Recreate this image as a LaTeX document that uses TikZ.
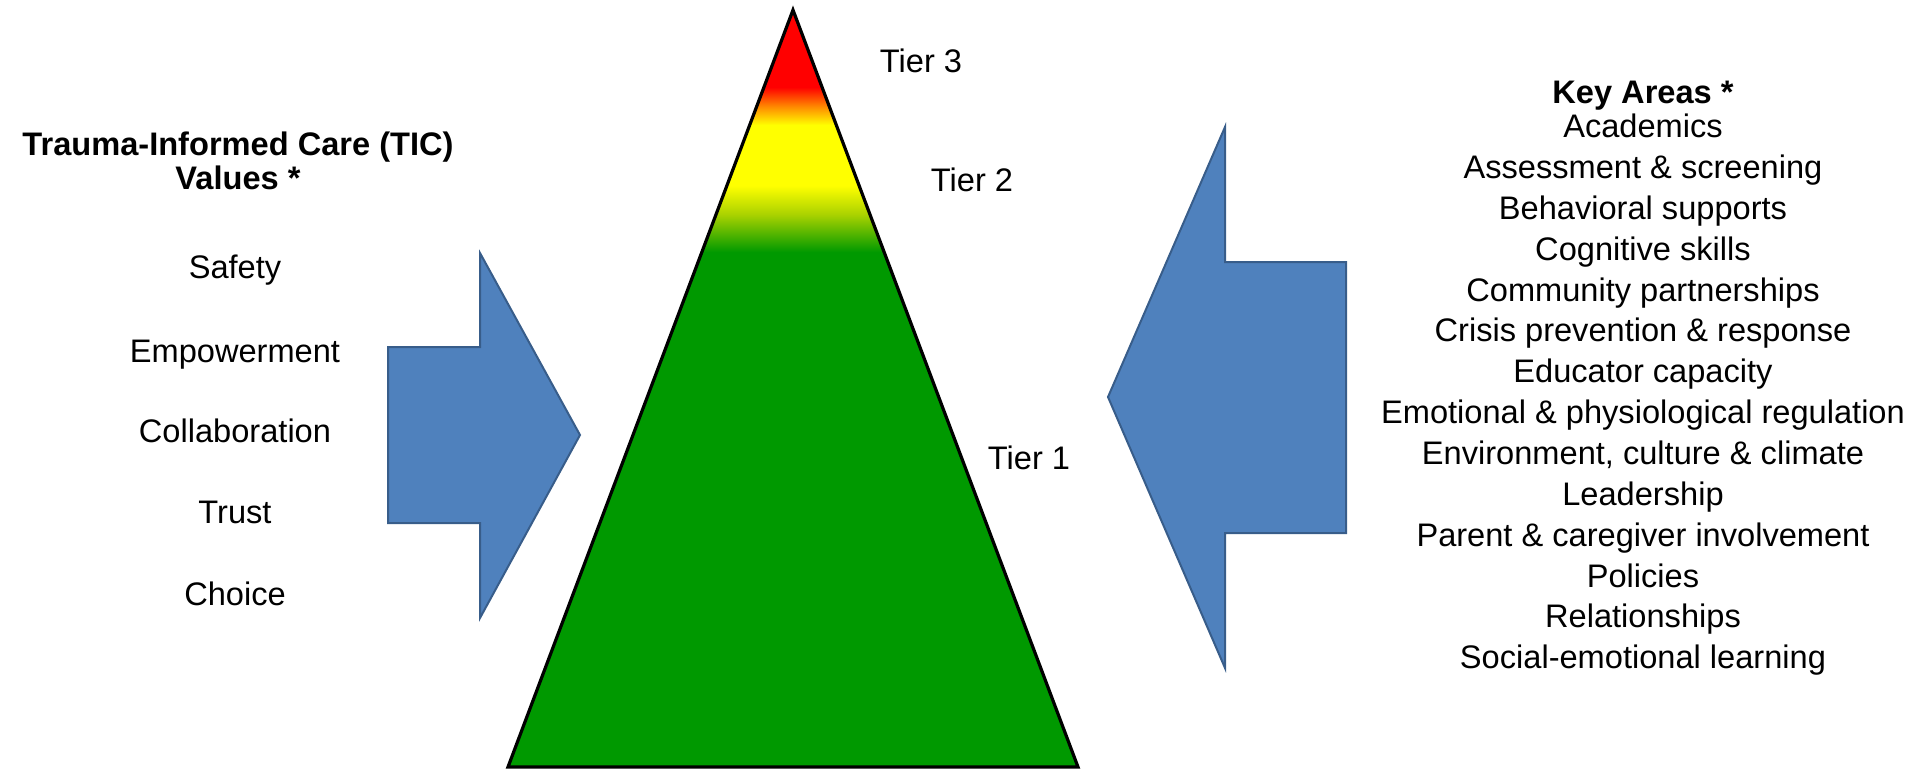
\documentclass[tikz,border=0pt]{standalone}
\usepackage{fontspec}
\setmainfont{Liberation Sans}
\definecolor{tgreen}{RGB}{0,153,0}
\definecolor{tyg}{RGB}{170,210,0}
\definecolor{tyellow}{RGB}{255,255,0}
\definecolor{torange}{RGB}{255,140,0}
\definecolor{tred}{RGB}{255,0,0}
\definecolor{arrowfill}{RGB}{79,129,189}
\definecolor{arrowline}{RGB}{56,93,138}
\pgfdeclareverticalshading{tiershade}{100bp}{color(0bp)=(tgreen); color(59.0bp)=(tgreen); color(61.5bp)=(tyg); color(63.4bp)=(tyellow); color(67.4bp)=(tyellow); color(68.6bp)=(torange); color(69.9bp)=(tred); color(100bp)=(tred)}
\tikzset{
  txt/.style={font=\fontsize{16.3}{19.5}\selectfont, inner sep=0pt, text height=11.7pt, text depth=0pt, anchor=center},
  btxt/.style={txt, font=\fontsize{16.3}{19.5}\selectfont\bfseries},
  bluearrow/.style={fill=arrowfill, draw=arrowline, line width=1pt, line join=miter},
  tri/.style={shading=tiershade, draw=black, line width=1.6pt, line join=miter}
}
\begin{document}
\begin{tikzpicture}[x=0.5pt,y=-0.5pt]
\useasboundingbox (0,0) rectangle (1919,772);
% triangle
\coordinate (apex) at (793,10);
\coordinate (bl) at (508,767);
\coordinate (br) at (1078,767);
\path[tri] (apex) -- (br) -- (bl) -- cycle;
% tier labels
\node[txt] (t3) at (921,61) {Tier 3};
\node[txt] (t2) at (972,180) {Tier 2};
\node[txt] (t1) at (1029,458) {Tier 1};
% left arrow
\path[bluearrow] (388,347) -- (480,347) -- (480,253) -- (580,435) -- (480,618) -- (480,523) -- (388,523) -- cycle;
% right arrow
\path[bluearrow] (1346,262) -- (1225,262) -- (1225,127) -- (1108,397) -- (1225,668) -- (1225,533) -- (1346,533) -- cycle;
% left text
\node[btxt] (tic1) at (238,144) {Trauma-Informed Care (TIC)};
\node[btxt] (tic2) at (238,178) {Values *};
\node[txt] (v1) at (235,267) {Safety};
\node[txt] (v2) at (235,351) {Empowerment};
\node[txt] (v3) at (235,431) {Collaboration};
\node[txt] (v4) at (235,512) {Trust};
\node[txt] (v5) at (235,594) {Choice};
% right text
\node[btxt] (ka) at (1643,92) {Key Areas *};
\foreach \t [count=\i] in {Academics, Assessment \& screening, Behavioral supports, Cognitive skills, Community partnerships, Crisis prevention \& response, Educator capacity, Emotional \& physiological regulation, {Environment, culture \& climate}, Leadership, Parent \& caregiver involvement, Policies, Relationships, Social-emotional learning}
  \node[txt] (ka\i) at (1643,{126+40.85*(\i-1)}) {\t};
\end{tikzpicture}
\end{document}
